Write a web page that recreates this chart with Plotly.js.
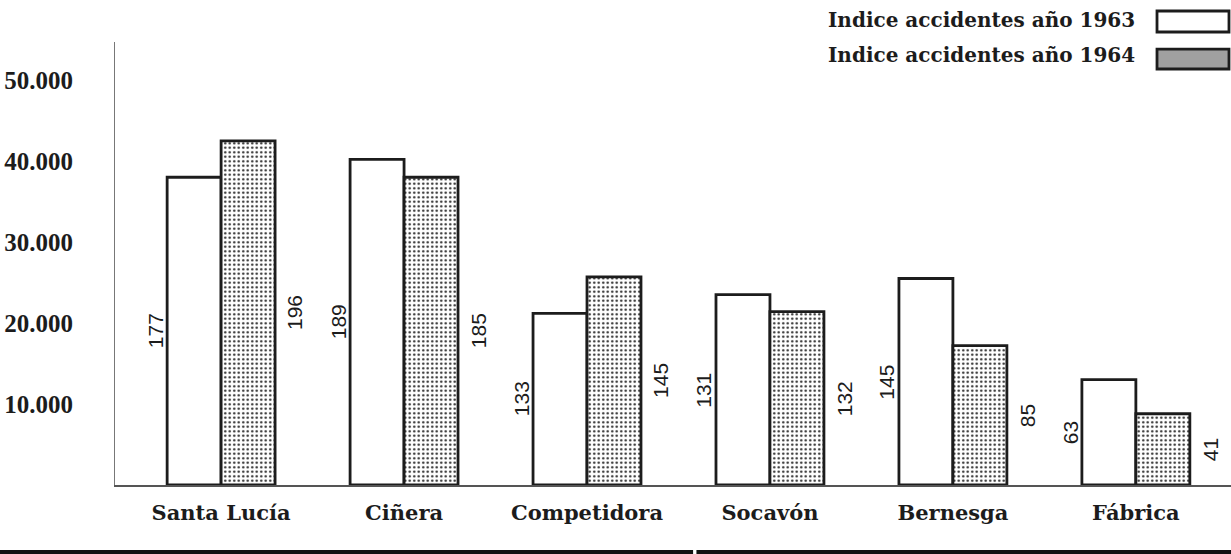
<!DOCTYPE html>
<html>
<head>
<meta charset="utf-8">
<script src="https://cdn.plot.ly/plotly-3.0.1.min.js"></script>
<style>html,body{margin:0;padding:0;background:#fff}#chart{width:1231px;height:554px}</style>
</head>
<body>
<div id="chart"></div>
<script>
// ---- data ----
const categories = ["Santa Lucía", "Ciñera", "Competidora", "Socavón", "Bernesga", "Fábrica"];
const index1963 = [38000, 40200, 21200, 23500, 25500, 13000];
const index1964 = [42500, 38000, 25700, 21400, 17200, 8800];
const count1963 = [177, 189, 133, 131, 145, 63];
const count1964 = [196, 185, 145, 132, 85, 41];
const yTickVals = [10000, 20000, 30000, 40000, 50000];
const yTickText = ["10.000", "20.000", "30.000", "40.000", "50.000"];
const seriesNames = ["Indice accidentes año 1963", "Indice accidentes año 1964"];

const ink = "#1c1c1c";
const serifBold = "'DejaVu Serif', serif";

const traces = [
  {
    type: "bar", x: categories, y: index1963, name: seriesNames[0],
    marker: { color: "#ffffff", line: { color: ink, width: 2.8 } },
    hoverinfo: "x+y"
  },
  {
    type: "bar", x: categories, y: index1964, name: seriesNames[1],
    marker: {
      color: "#ffffff",
      line: { color: ink, width: 2.8 },
      pattern: { shape: ".", size: 4.5, solidity: 0.22, fgcolor: "#222", bgcolor: "#ffffff", fillmode: "replace" }
    },
    hoverinfo: "x+y"
  }
];

const annotations = [];
categories.forEach((c, i) => {
  annotations.push({
    x: c, y: index1963[i] / 2, xref: "x", yref: "y", text: String(count1963[i]),
    showarrow: false, textangle: -90, xshift: -66,
    font: { family: "'Liberation Sans', Arial, sans-serif", size: 21, color: ink }
  });
  annotations.push({
    x: c, y: index1964[i] / 2, xref: "x", yref: "y", text: String(count1964[i]),
    showarrow: false, textangle: -90, xshift: 74,
    font: { family: "'Liberation Sans', Arial, sans-serif", size: 21, color: ink }
  });
});
// legend text (drawn manually: text left of swatch)
annotations.push({
  xref: "paper", yref: "paper", x: 0.9158, y: 1.0497, xanchor: "right", yanchor: "middle",
  text: "<b>" + seriesNames[0] + "</b>", showarrow: false,
  font: { family: serifBold, size: 20, color: ink }
});
annotations.push({
  xref: "paper", yref: "paper", x: 0.9158, y: 0.9707, xanchor: "right", yanchor: "middle",
  text: "<b>" + seriesNames[1] + "</b>", showarrow: false,
  font: { family: serifBold, size: 20, color: ink }
});

const shapes = [
  { type: "rect", xref: "paper", yref: "paper", x0: 0.9337, x1: 0.9982, y0: 1.0226, y1: 1.070,
    line: { color: ink, width: 2.8 }, fillcolor: "#ffffff" },
  { type: "rect", xref: "paper", yref: "paper", x0: 0.9337, x1: 0.9982, y0: 0.939, y1: 0.984,
    line: { color: ink, width: 2.8 }, fillcolor: "#a0a0a0" },
  { type: "line", xref: "paper", yref: "paper", x0: -0.104, x1: 0.518, y0: -0.1512, y1: -0.1512,
    line: { color: "#111", width: 4 } },
  { type: "line", xref: "paper", yref: "paper", x0: 0.521, x1: 1.0, y0: -0.1512, y1: -0.1512,
    line: { color: "#111", width: 4 } }
];

const layout = {
  width: 1231, height: 554,
  margin: { l: 115, r: 0, t: 42, b: 69, pad: 0 },
  paper_bgcolor: "#ffffff", plot_bgcolor: "#ffffff",
  showlegend: false,
  barmode: "group", bargap: 0.41, bargroupgap: 0,
  xaxis: {
    type: "category", range: [-0.58, 5.52],
    showline: true, linecolor: "#555", linewidth: 1.5,
    showgrid: false, zeroline: false, ticks: "",
    ticklabelstandoff: 8,
    tickfont: { family: serifBold, size: 21, color: ink, weight: "bold" }
  },
  yaxis: {
    range: [0, 54700],
    tickvals: yTickVals, ticktext: yTickText,
    showline: true, linecolor: "#777", linewidth: 1,
    showgrid: false, zeroline: false, ticks: "",
    ticklabelstandoff: 36,
    tickfont: { family: "'Liberation Serif', 'Times New Roman', serif", size: 25, color: ink, weight: "bold" }
  },
  annotations: annotations,
  shapes: shapes,
  font: { family: serifBold, color: ink }
};

Plotly.newPlot("chart", traces, layout, { displayModeBar: false, staticPlot: true });
</script>
</body>
</html>
